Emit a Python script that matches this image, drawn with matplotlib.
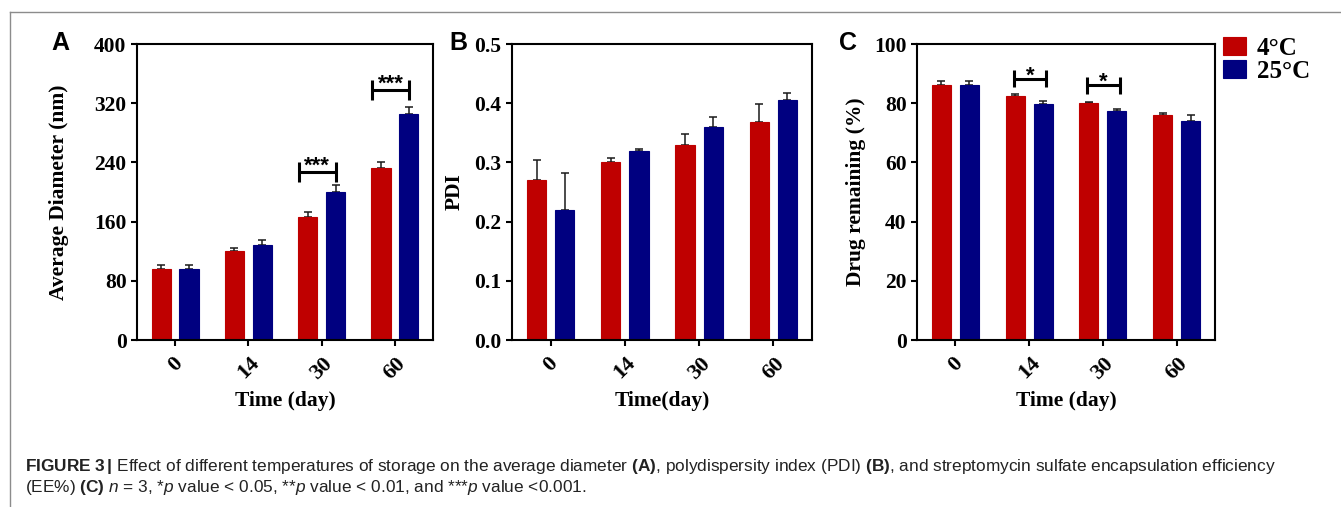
import matplotlib
matplotlib.use("Agg")
import matplotlib.pyplot as plt
import numpy as np
from matplotlib.lines import Line2D

# ---- data ----
days = ["0", "14", "30", "60"]
series = ["4°C", "25°C"]
colors = ["#BF0000", "#000080"]

diam_4 = [96, 120, 166, 233]
diam_4_err = [6, 5, 7, 8]
diam_25 = [96, 128, 200, 305]
diam_25_err = [6, 7, 10, 10]

pdi_4 = [0.271, 0.300, 0.330, 0.369]
pdi_4_err = [0.033, 0.007, 0.018, 0.029]
pdi_25 = [0.219, 0.319, 0.360, 0.406]
pdi_25_err = [0.063, 0.003, 0.017, 0.011]

drug_4 = [86.2, 82.4, 79.9, 75.9]
drug_4_err = [1.4, 0.8, 0.5, 0.8]
drug_25 = [86.2, 79.7, 77.2, 74.0]
drug_25_err = [1.4, 1.1, 0.9, 2.0]

# significance marks: (group index, bracket level, label)
sig_diam = [(2, 227, "***"), (3, 338, "***")]
sig_drug = [(1, 88.3, "*"), (2, 86.0, "*")]

SERIF = "Liberation Serif"
SANS = "Liberation Sans"
plt.rcParams["mathtext.fontset"] = "custom"
plt.rcParams["mathtext.rm"] = "Liberation Sans"
plt.rcParams["mathtext.it"] = "Liberation Sans:italic"
plt.rcParams["mathtext.bf"] = "Liberation Sans:bold"

W, H = 1341, 507
fig = plt.figure(figsize=(W / 100, H / 100), dpi=100)


def px_axes(l, t, r, b):
    return fig.add_axes([l / W, 1 - b / H, (r - l) / W, (b - t) / H])


def panel(ax, v4, e4, v25, e25, ylim, yticks, ylabel, xlabel, ypad, fmt="{:g}"):
    x = np.arange(len(days))
    off, w = 0.19, 0.26
    bars = []
    for vals, errs, c, dx, lab in [(v4, e4, colors[0], -off, series[0]),
                                   (v25, e25, colors[1], off, series[1])]:
        b = ax.bar(x + dx, vals, w, color=c, edgecolor=c, linewidth=0.8, label=lab, zorder=2)
        bars.append(b)
        ax.errorbar(x + dx, vals, yerr=[np.zeros(len(vals)), errs], fmt="none",
                    ecolor="#1a1a1a", elinewidth=1.1, capsize=3, capthick=1.1, zorder=1)
    ax.set_xlim(-0.52, 3.52)
    ax.set_ylim(*ylim)
    ax.set_yticks(yticks)
    ax.set_yticklabels([fmt.format(t) for t in yticks])
    ax.set_xticks(x)
    ax.set_xticklabels(days, rotation=45)
    for s in ax.spines.values():
        s.set_linewidth(1.5)
    ax.tick_params(width=1.5, length=4.5, labelsize=15.5, pad=3)
    ax.tick_params(axis="x", pad=5, labelsize=16)
    for lab in ax.get_xticklabels() + ax.get_yticklabels():
        lab.set_fontfamily(SERIF)
        lab.set_fontweight("bold")
    ax.set_ylabel(ylabel, family=SERIF, weight="bold", fontsize=15.5, labelpad=ypad)
    ax.set_xlabel(xlabel, family=SERIF, weight="bold", fontsize=15.5)
    ax.xaxis.set_label_coords(0.5, -0.172)
    return bars


def bracket(ax, g, y, h, label, x0, x1, dy):
    kw = dict(color="black", lw=2.2, solid_capstyle="butt", zorder=3)
    ax.plot([g + x0, g + x1], [y, y], **kw)
    ax.plot([g + x0, g + x0], [y - h, y + h], **kw)
    ax.plot([g + x1, g + x1], [y - h, y + h], **kw)
    ax.annotate(label, (g + (x0 + x1) / 2, y), xytext=(0, dy), textcoords="offset points",
                ha="center", va="baseline", family=SANS, weight="bold", fontsize=16)


axA = px_axes(137, 44, 433, 340)
axB = px_axes(512, 44, 812, 340)
axC = px_axes(917, 44, 1215, 340)

panel(axA, diam_4, diam_4_err, diam_25, diam_25_err, (0, 400), [0, 80, 160, 240, 320, 400],
      "Average Diameter (nm)", "Time (day)", 18)
panel(axB, pdi_4, pdi_4_err, pdi_25, pdi_25_err, (0, 0.5), [0, 0.1, 0.2, 0.3, 0.4, 0.5],
      "PDI", "Time(day)", 7, fmt="{:.1f}")
bars = panel(axC, drug_4, drug_4_err, drug_25, drug_25_err, (0, 100), [0, 20, 40, 60, 80, 100],
             "Drug remaining (%)", "Time (day)", 6)

for g, y, lab in sig_diam:
    bracket(axA, g, y, 13, lab, -0.31, 0.19, 0)
for g, y, lab in sig_drug:
    bracket(axC, g, y, 2.9, lab, -0.21, 0.23, -2)

fig.legend(handles=bars, labels=series, loc="upper left", bbox_to_anchor=(1223 / W, 1 - 37 / H),
           frameon=False, prop=dict(family=SERIF, weight="bold", size=18),
           handlelength=0.9, handleheight=0.75, handletextpad=0.45, labelspacing=0.0,
           borderpad=0, borderaxespad=0)

# panel letters
for xp, letter in [(60, "A"), (458, "B"), (848, "C")]:
    fig.text(xp / W, 1 - 43 / H, letter, family=SANS, weight="bold", fontsize=18,
             ha="center", va="center")

# grey frame
frame = dict(color="#8c8c8c", lw=1.0, transform=fig.transFigure)
fig.add_artist(Line2D([10 / W, 1], [1 - 12 / H, 1 - 12 / H], **frame))
fig.add_artist(Line2D([10 / W, 10 / W], [0, 1 - 12 / H], **frame))

# caption
line1 = (r"$\mathbf{FIGURE\ 3\,|}$ Effect of different temperatures of storage on the average "
         r"diameter $\mathbf{(A)}$, polydispersity index (PDI) $\mathbf{(B)}$, and streptomycin "
         r"sulfate encapsulation efficiency")
line2 = (r"(EE%) $\mathbf{(C)}$ $\mathit{n}$ = 3, *$\mathit{p}$ value < 0.05, **$\mathit{p}$ "
         r"value < 0.01, and ***$\mathit{p}$ value <0.001.")
cap_kw = dict(family=SANS, weight="normal", fontsize=10, color="#222222", ha="left", va="baseline")
t1 = fig.text(25 / W, 1 - 471 / H, line1, **cap_kw)
t2 = fig.text(25 / W, 1 - 492 / H, line2, **cap_kw)
r = fig.canvas.get_renderer()
width = t1.get_window_extent(r).width
size = 10 * 1254 / width
t1.set_fontsize(size)
t2.set_fontsize(size)

fig.savefig("out.png", dpi=100)
